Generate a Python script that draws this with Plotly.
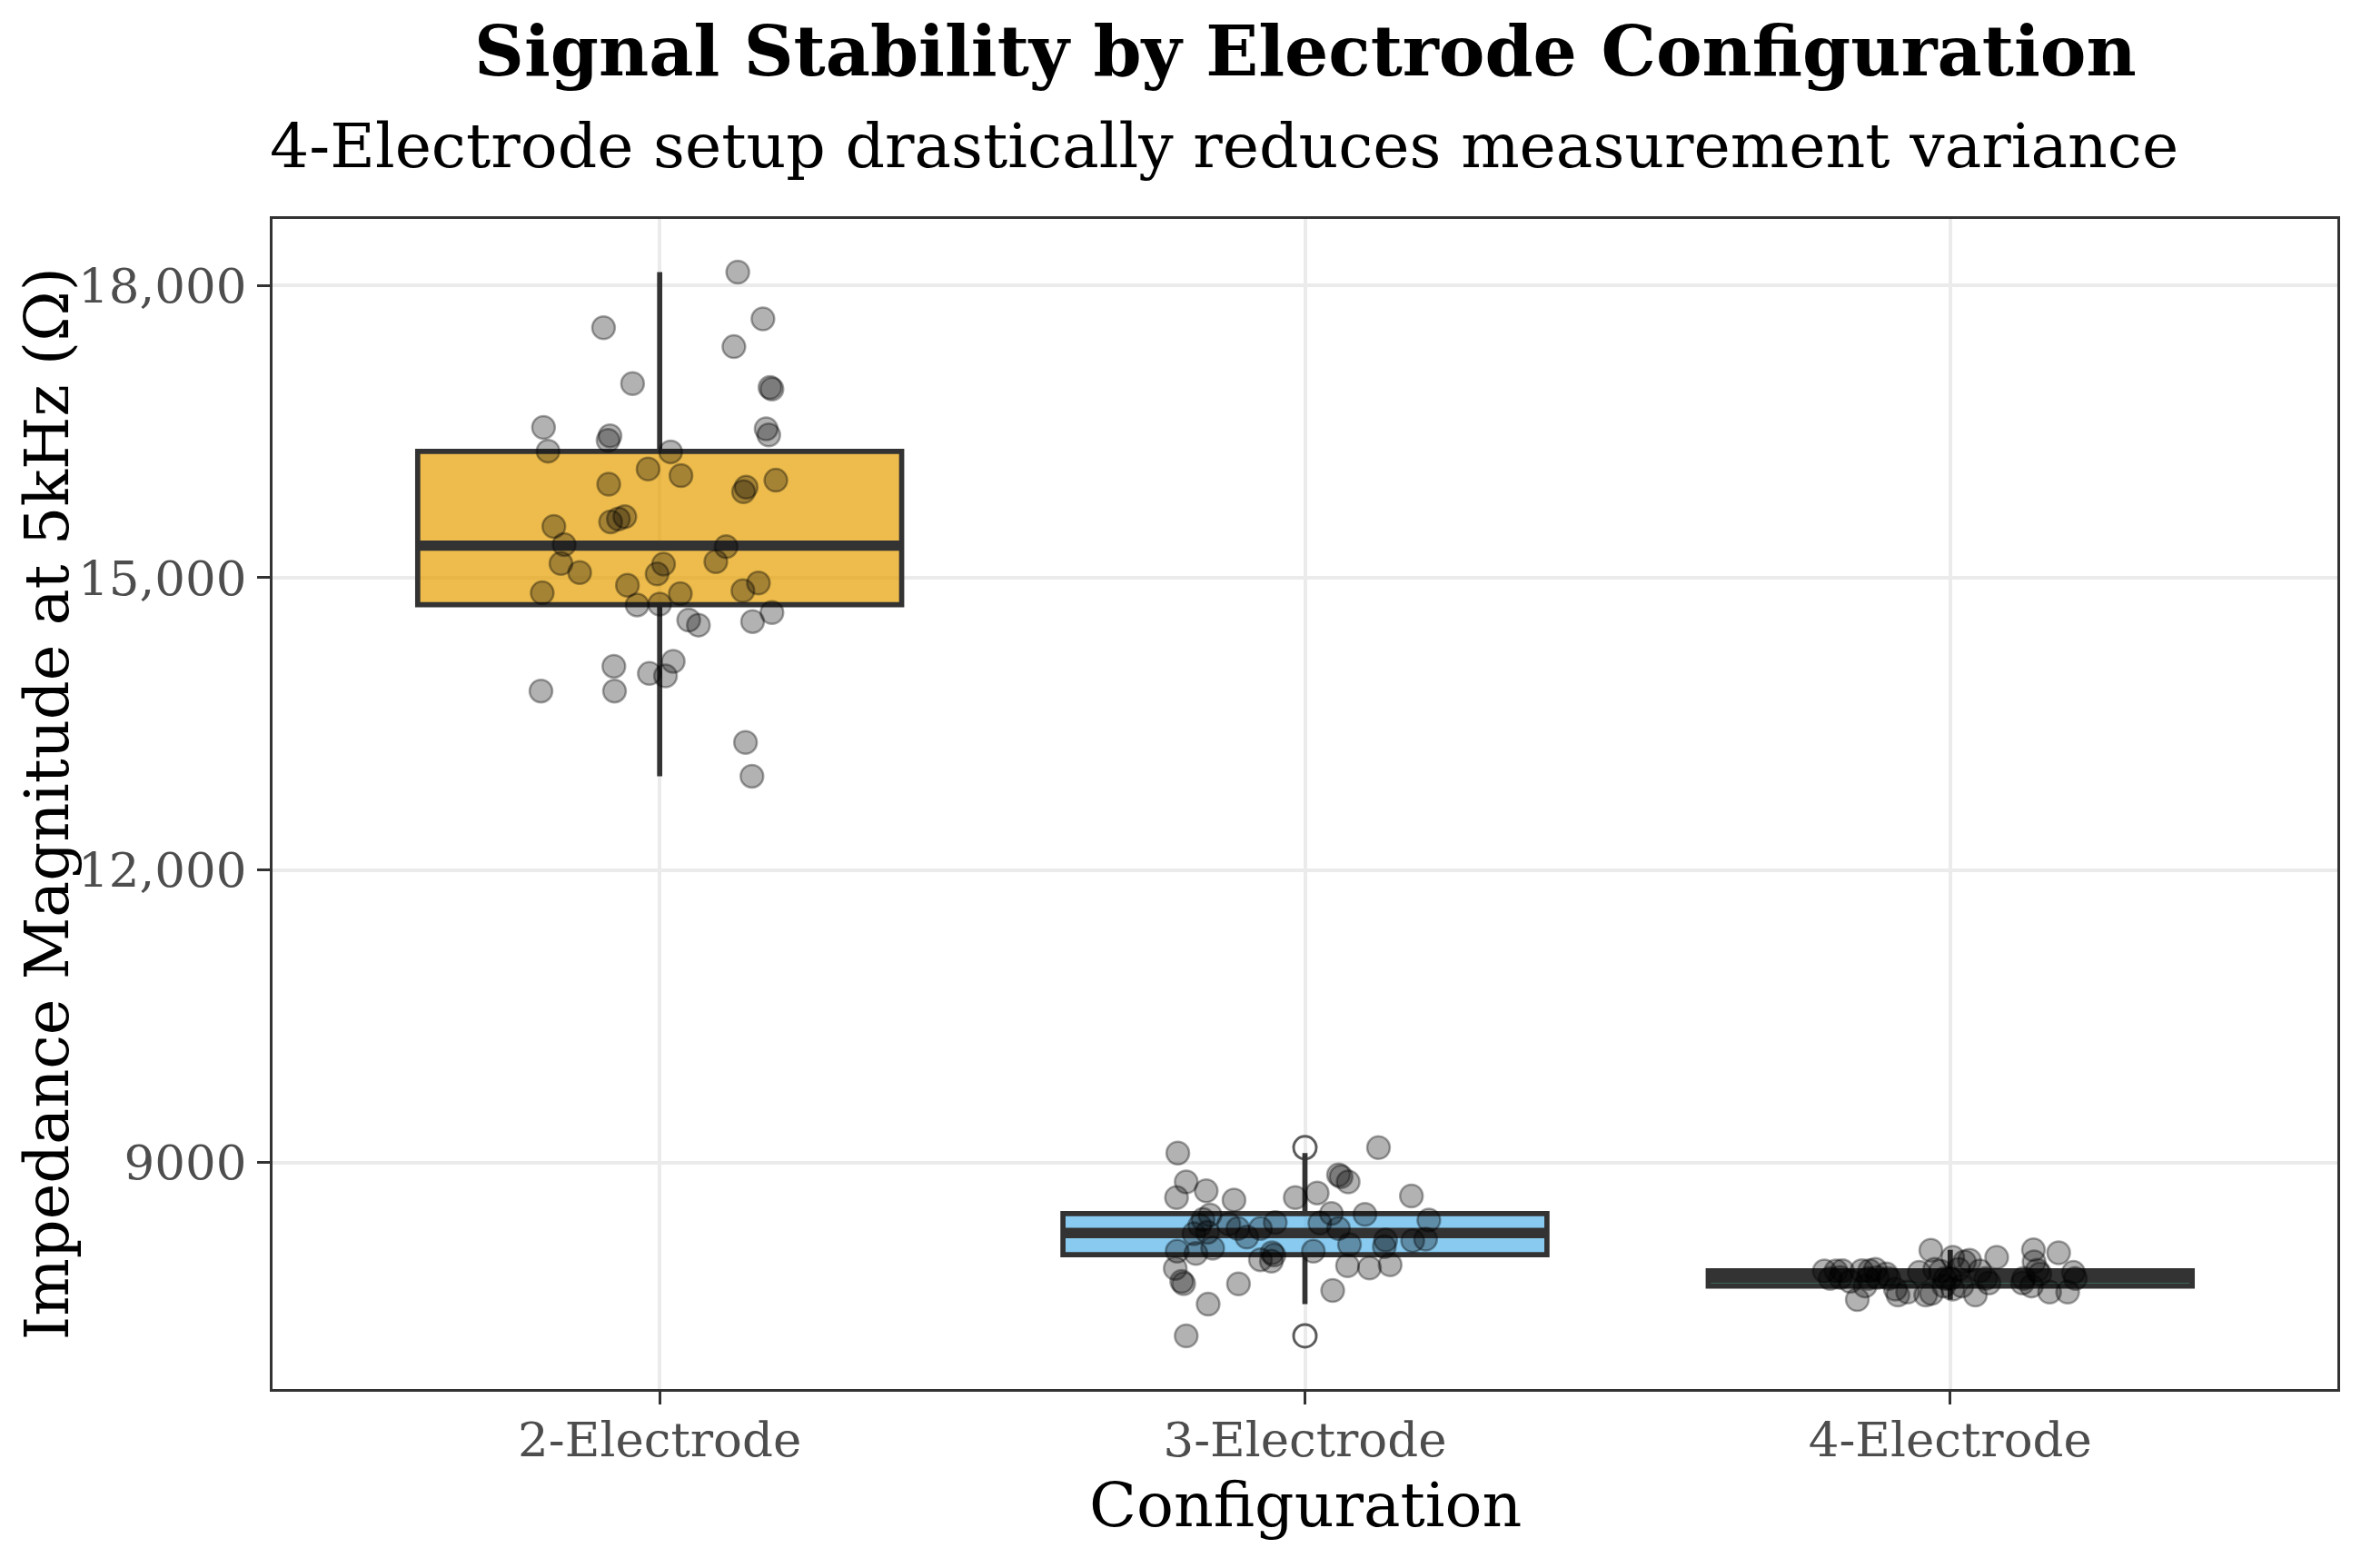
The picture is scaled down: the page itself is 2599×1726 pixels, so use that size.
import numpy as np
import plotly.graph_objects as go

# categories and colours (fill colours carry ggplot-style alpha)
CATEGORIES = ["2-Electrode", "3-Electrode", "4-Electrode"]
FILL_COLORS = ["rgba(230,159,0,0.7)", "rgba(86,180,233,0.7)", "rgba(0,158,115,0.7)"]

# impedance readings at 5 kHz (ohm)
IMPEDANCE_2E = [18136, 17566, 17656, 17371, 16992, 16952, 16937, 16543, 16457, 16410,
                16528, 16466, 16299, 16292, 16116, 15960, 16048, 15930, 15883, 16001,
                15527, 15574, 15604, 15626, 15341, 15319, 15146, 15053, 15140, 15040,
                15165, 14845, 14923, 14836, 14867, 14947, 14721, 14730, 14566, 14514,
                14551, 14644, 14092, 14142, 14018, 13993, 13838, 13838, 13311, 12964]
IMPEDANCE_3E = [9097, 9153, 8802, 8641, 8710, 8616, 8641, 8688, 8874, 8855,
                8802, 8657, 8478, 8468, 8409, 8462, 8416, 8354, 8270, 8285,
                8369, 8323, 8235, 8323, 8385, 8379, 8323, 8199, 8214, 8205,
                8137, 8158, 8090, 8068, 8121, 8090, 8074, 8050, 8003, 7988,
                7914, 7780, 7758, 7755, 7942, 7919, 7951, 7687, 7547, 7222]
IMPEDANCE_4E = [7888, 7810, 7888, 7890, 7820, 7780, 7594, 7890, 7733, 7810,
                7890, 7905, 7820, 7857, 7811, 7702, 7641, 7672, 7873, 7641,
                7656, 8100, 7905, 7885, 7733, 7810, 7810, 7702, 8028, 7905,
                7733, 7981, 7997, 7641, 7888, 7810, 7764, 8028, 7764, 7811,
                7733, 8105, 7981, 7895, 7857, 7672, 8074, 7672, 7873, 7810]

# horizontal jitter of each point (category units)
JITTER_2E = [0.121, -0.087, 0.160, 0.115, -0.042, 0.171, 0.174, -0.180, -0.077, -0.080,
             0.165, 0.169, -0.173, 0.017, -0.018, -0.079, 0.033, 0.134, 0.130, 0.180,
             -0.164, -0.076, -0.064, -0.054, -0.148, 0.103, -0.153, -0.124, 0.006, -0.004,
             0.087, -0.182, -0.050, 0.032, 0.129, 0.153, -0.035, 0.000, 0.045, 0.060,
             0.144, 0.174, -0.071, 0.021, -0.016, 0.009, -0.184, -0.070, 0.133, 0.143]
JITTER_3E = [-0.197, 0.114, -0.184, -0.199, -0.153, -0.110, -0.015, 0.019, 0.052, 0.056,
             0.067, 0.165, 0.041, 0.093, 0.192, -0.147, -0.158, -0.163, -0.172, -0.151,
             -0.118, -0.104, -0.090, -0.069, -0.046, 0.023, 0.052, 0.167, 0.187, 0.125,
             0.123, 0.069, -0.198, -0.169, -0.143, 0.013, -0.051, -0.048, -0.069, -0.052,
             -0.201, -0.191, -0.188, -0.103, 0.066, 0.100, 0.132, 0.043, -0.150, -0.184]
JITTER_4E = [-0.195, -0.186, -0.177, -0.167, -0.170, -0.155, -0.144, -0.137, -0.132, -0.127,
             -0.125, -0.116, -0.113, -0.099, -0.095, -0.085, -0.081, -0.066, -0.048, -0.038,
             -0.029, -0.030, -0.024, -0.015, -0.010, -0.008, 0.000, 0.004, 0.004, 0.013,
             0.018, 0.022, 0.030, 0.039, 0.046, 0.055, 0.060, 0.072, 0.112, 0.114,
             0.126, 0.129, 0.130, 0.135, 0.139, 0.154, 0.168, 0.182, 0.191, 0.194]

Y_TICKS = [9000, 12000, 15000, 18000]
Y_TICK_LABELS = ["9000", "12,000", "15,000", "18,000"]

TITLE = "Signal Stability by Electrode Configuration"
SUBTITLE = "4-Electrode setup drastically reduces measurement variance"
X_TITLE = "Configuration"
Y_TITLE = "Impedance Magnitude at 5kHz (Ω)"

FONT = "DejaVu Serif"
INK = "#333333"
BOX_WIDTH = 0.75

groups = [IMPEDANCE_2E, IMPEDANCE_3E, IMPEDANCE_4E]
jitters = [JITTER_2E, JITTER_3E, JITTER_4E]


def box_stats(values):
    v = np.asarray(values, dtype=float)
    q1, med, q3 = np.percentile(v, [25, 50, 75])
    iqr = q3 - q1
    inside = v[(v >= q1 - 1.5 * iqr) & (v <= q3 + 1.5 * iqr)]
    outliers = v[(v < q1 - 1.5 * iqr) | (v > q3 + 1.5 * iqr)]
    return q1, med, q3, inside.min(), inside.max(), outliers


fig = go.Figure()

# boxplot layer (boxes, fattened medians, hollow outliers)
for i, (vals, fill) in enumerate(zip(groups, FILL_COLORS)):
    pos = i + 1
    q1, med, q3, lo, hi, outliers = box_stats(vals)
    fig.add_trace(go.Box(
        x=[pos], q1=[q1], median=[med], q3=[q3], lowerfence=[lo], upperfence=[hi],
        width=BOX_WIDTH, fillcolor=fill, line=dict(color=INK, width=5.7),
        whiskerwidth=0, boxpoints=False, hoverinfo="skip", showlegend=False,
    ))
    fig.add_trace(go.Scatter(
        x=[pos - BOX_WIDTH / 2, pos + BOX_WIDTH / 2], y=[med, med], mode="lines",
        line=dict(color=INK, width=11.4), hoverinfo="skip", showlegend=False,
    ))
    if len(outliers):
        fig.add_trace(go.Scatter(
            x=[pos] * len(outliers), y=outliers, mode="markers",
            marker=dict(symbol="circle-open", size=25, color="rgba(51,51,51,0.8)",
                        line=dict(width=3)),
            hoverinfo="skip", showlegend=False,
        ))

# jittered raw points on top
for i, (vals, jit) in enumerate(zip(groups, jitters)):
    pos = i + 1
    fig.add_trace(go.Scatter(
        x=pos + np.asarray(jit), y=vals, mode="markers",
        marker=dict(size=25, color="rgba(0,0,0,0.3)",
                    line=dict(color="rgba(0,0,0,0.35)", width=2.5)),
        hoverinfo="skip", showlegend=False,
    ))

# ggplot-like 5% expansion of the data range
all_vals = np.concatenate([np.asarray(g, dtype=float) for g in groups])
span = all_vals.max() - all_vals.min()
y_range = [all_vals.min() - 0.05 * span, all_vals.max() + 0.05 * span]

axis_common = dict(
    showgrid=True, gridcolor="#EBEBEB", gridwidth=4, zeroline=False,
    showline=True, mirror=True, linecolor=INK, linewidth=3,
    ticks="outside", ticklen=14, tickwidth=3, tickcolor=INK,
    tickfont=dict(family=FONT, size=53, color="#4D4D4D"),
)

# the page body adds an 8px offset, so margins are trimmed on the top/left
fig.update_layout(
    width=2599, height=1726,
    margin=dict(l=292, r=34, t=233, b=205),
    paper_bgcolor="white", plot_bgcolor="white",
    xaxis=dict(range=[0.4, 3.6], tickvals=[1, 2, 3], ticktext=CATEGORIES,
               ticklabelstandoff=-7, **axis_common),
    yaxis=dict(range=y_range, tickvals=Y_TICKS, ticktext=Y_TICK_LABELS,
               ticklabelstandoff=1, **axis_common),
    annotations=[
        dict(text=TITLE, x=0.5, y=1.143, xref="paper", yref="paper",
             xanchor="center", yanchor="middle", showarrow=False,
             font=dict(family=FONT, size=76, color="black", weight="bold")),
        dict(text=SUBTITLE, x=-0.002, y=1.0625, xref="paper", yref="paper",
             xanchor="left", yanchor="middle", showarrow=False,
             font=dict(family=FONT, size=68, color="black")),
        dict(text=X_TITLE, x=0.5, y=-0.0991, xref="paper", yref="paper",
             xanchor="center", yanchor="middle", showarrow=False,
             font=dict(family=FONT, size=68, color="black")),
        dict(text=Y_TITLE, x=-0.109, y=0.5, xref="paper", yref="paper",
             xanchor="center", yanchor="middle", textangle=-90, showarrow=False,
             font=dict(family=FONT, size=67, color="black")),
    ],
)

fig.write_html("out.html")
